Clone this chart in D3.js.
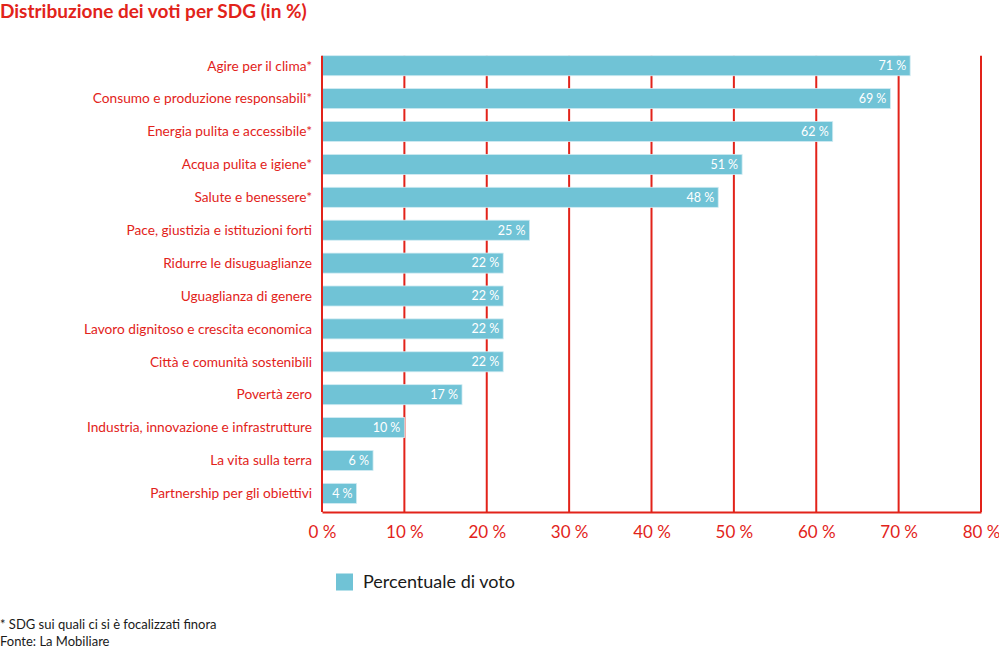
<!DOCTYPE html>
<html lang="it">
<head>
<meta charset="UTF-8">
<title>Distribuzione dei voti per SDG</title>
<style>
  body { margin: 0; background: #fff; }
  svg { display: block; font-family: Lato, "Noto Sans", sans-serif; }
  .cat { fill: #e2231a; font-size: 13.7px; }
  .tick text { fill: #e2231a; font-size: 17px; }
  .val { fill: #fff; font-size: 12.5px; }
</style>
</head>
<body>
<svg id="chart" width="999" height="650"></svg>
<script src="https://d3js.org/d3.v7.min.js"></script>
<script>
// data
const categories = [
  "Agire per il clima*",
  "Consumo e produzione responsabili*",
  "Energia pulita e accessibile*",
  "Acqua pulita e igiene*",
  "Salute e benessere*",
  "Pace, giustizia e istituzioni forti",
  "Ridurre le disuguaglianze",
  "Uguaglianza di genere",
  "Lavoro dignitoso e crescita economica",
  "Città e comunità sostenibili",
  "Povertà zero",
  "Industria, innovazione e infrastrutture",
  "La vita sulla terra",
  "Partnership per gli obiettivi"
];
const votes = [71.4, 69, 62, 51, 48.1, 25.2, 22, 22, 22, 22, 17, 10, 6.2, 4.2];
const labels = ["71 %", "69 %", "62 %", "51 %", "48 %", "25 %", "22 %", "22 %", "22 %", "22 %", "17 %", "10 %", "6 %", "4 %"];
const ticks = [0, 10, 20, 30, 40, 50, 60, 70, 80];

const red = "#e2231a";
const blue = "#70c3d6";

const svg = d3.select("#chart");

const x = d3.scaleLinear().domain([0, 80]).range([322, 981]);
const y = d3.scaleBand()
  .domain(categories)
  .range([49.1, 510])
  .paddingInner(0.39)
  .paddingOuter(0.2);

const gridTop = y(categories[0]);
const base = 512;

// title
svg.append("text")
  .attr("x", 0).attr("y", 18)
  .attr("fill", red)
  .style("font-size", "19px")
  .style("font-weight", "bold")
  .text("Distribuzione dei voti per SDG (in %)");

// gridlines
svg.append("g")
  .selectAll("line")
  .data(ticks.slice(1))
  .join("line")
  .attr("x1", d => x(d)).attr("x2", d => x(d))
  .attr("y1", gridTop).attr("y2", base)
  .attr("stroke", red)
  .attr("stroke-width", 2);

// bars
svg.append("g")
  .selectAll("rect")
  .data(votes)
  .join("rect")
  .attr("x", x(0))
  .attr("y", (d, i) => y(categories[i]))
  .attr("width", d => x(d) - x(0))
  .attr("height", y.bandwidth())
  .attr("fill", blue)
  .attr("stroke", "#d3ecf3")
  .attr("stroke-width", 0.8);

// value labels
svg.append("g")
  .selectAll("text")
  .data(votes)
  .join("text")
  .attr("class", "val")
  .attr("x", d => x(d) - 4)
  .attr("y", (d, i) => y(categories[i]) + y.bandwidth() / 2)
  .attr("dy", "0.35em")
  .attr("text-anchor", "end")
  .text((d, i) => labels[i]);

// category labels
svg.append("g")
  .selectAll("text")
  .data(categories)
  .join("text")
  .attr("class", "cat")
  .attr("x", 312)
  .attr("y", d => y(d) + y.bandwidth() / 2)
  .attr("dy", "0.35em")
  .attr("text-anchor", "end")
  .text(d => d);

// left axis line
svg.append("line")
  .attr("x1", x(0)).attr("x2", x(0))
  .attr("y1", gridTop).attr("y2", base)
  .attr("stroke", red)
  .attr("stroke-width", 2);

// bottom axis
const xAxis = d3.axisBottom(x)
  .tickValues(ticks)
  .tickSize(0)
  .tickPadding(14)
  .tickFormat(d => d + " %");

const ax = svg.append("g")
  .attr("transform", `translate(0,${base})`)
  .call(xAxis);
ax.select(".domain").attr("stroke", red).attr("stroke-width", 2);
ax.selectAll(".tick text").style("font-family", "Lato, sans-serif");

// legend
svg.append("rect")
  .attr("x", 336).attr("y", 573.5)
  .attr("width", 17).attr("height", 17)
  .attr("fill", blue);
svg.append("text")
  .attr("x", 363).attr("y", 582)
  .attr("dy", "0.35em")
  .attr("fill", "#1a1a1a")
  .style("font-size", "18px")
  .text("Percentuale di voto");

// footnotes
svg.append("text")
  .attr("x", 0).attr("y", 629)
  .attr("fill", "#1a1a1a")
  .style("font-size", "13px")
  .text("* SDG sui quali ci si è focalizzati finora");
svg.append("text")
  .attr("x", 0).attr("y", 646)
  .attr("fill", "#1a1a1a")
  .style("font-size", "13px")
  .text("Fonte: La Mobiliare");
</script>
</body>
</html>
